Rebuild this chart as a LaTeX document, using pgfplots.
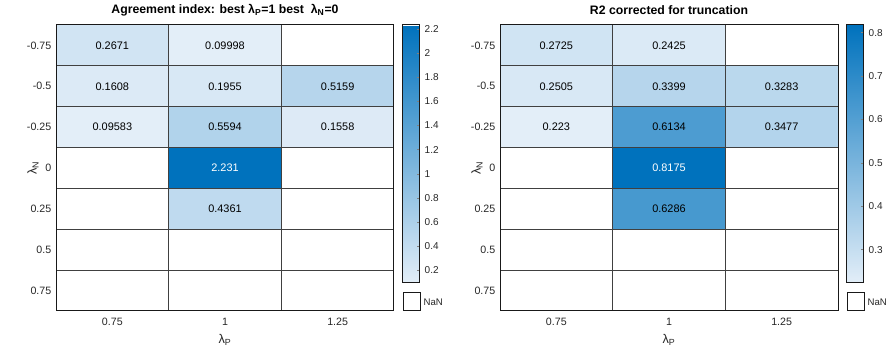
\documentclass[border=0pt]{standalone}
\usepackage{fontspec}
\setmainfont{Liberation Sans}
\usepackage{pgfplots}
\pgfplotsset{compat=1.18}
\usepgfplotslibrary{patchplots}

\pgfplotsset{
  /pgf/number format/assume math mode=true,
  hm/.style={
    scale only axis, width=253.5pt, height=214.5pt,
    xmin=-0.5, xmax=2.5, ymin=-0.5, ymax=6.5, y dir=reverse,
    xtick={0,1,2}, xticklabels={0.75,1,1.25},
    ytick={0,1,2,3,4,5,6}, yticklabels={-0.75,-0.5,-0.25,0,0.25,0.5,0.75},
    major tick length=0pt,
    minor xtick={0.5,1.5}, minor ytick={0.5,1.5,2.5,3.5,4.5,5.5},
    minor tick length=0pt,
    xminorgrids, yminorgrids,
    minor grid style={black!75, line width=0.6pt},
    axis line style={black!90, line width=0.75pt},
    axis on top,
    tick label style={font=\fontsize{8}{9.5}\selectfont, text=black!85},
    xticklabel style={yshift=-2pt},
    xlabel={λ\textsubscript{P}}, ylabel={λ\textsubscript{N}},
    label style={font=\fontsize{9.5}{11}\selectfont, text=black!85},
    xlabel style={at={(axis description cs:0.5,0)}, anchor=center, yshift=-21.75pt},
    ylabel style={at={(axis description cs:-0.068,0.5)}, anchor=center},
    every axis title shift=0pt,
    title style={font=\bfseries\fontsize{9.2}{11}\selectfont, at={(axis description cs:0.5,1)}, anchor=center, yshift=11.25pt},
    colormap={mblue}{rgb255=(227,238,248) rgb255=(0,114,189)},
    colorbar,
    colorbar style={
      scale only axis,
      at={(parent axis.north east)}, anchor=north west, xshift=-1.8pt,
      width=12.75pt, height=193.5pt,
      yticklabel style={font=\fontsize{7.5}{8.5}\selectfont, text=black!85},
      major tick length=2pt, tick align=inside, ytick pos=right,
      axis line style={black!90, line width=0.75pt},
    },
  },
  cells/.style={patch, patch type=rectangle, shader=flat, point meta=explicit},
  lbl/.style={only marks, mark=none, draw=none, fill=none, nodes near coords, point meta=explicit symbolic,
    nodes near coords align=center,
    every node near coord/.append style={font=\fontsize{8.2}{9.5}\selectfont, text=#1, anchor=center}},
}

\begin{document}
\begin{tikzpicture}
\useasboundingbox (0,0) rectangle (669.75pt,264pt);

% ---------- left heatmap ----------
\begin{axis}[hm, at={(42pt,30.75pt)}, anchor=south west,
  title={Agreement index: best λ\textsubscript{P}=1 best\ \ λ\textsubscript{N}=0},
  point meta min=0.09583, point meta max=2.231,
  colorbar style={ytick={0.2,0.4,0.6,0.8,1,1.2,1.4,1.6,1.8,2,2.2}}]
\addplot[cells] table[meta=c] {
x y c
-0.5 -0.5 0.2671
0.5 -0.5 0.2671
0.5 0.5 0.2671
-0.5 0.5 0.2671
0.5 -0.5 0.09998
1.5 -0.5 0.09998
1.5 0.5 0.09998
0.5 0.5 0.09998
-0.5 0.5 0.1608
0.5 0.5 0.1608
0.5 1.5 0.1608
-0.5 1.5 0.1608
0.5 0.5 0.1955
1.5 0.5 0.1955
1.5 1.5 0.1955
0.5 1.5 0.1955
1.5 0.5 0.5159
2.5 0.5 0.5159
2.5 1.5 0.5159
1.5 1.5 0.5159
-0.5 1.5 0.09583
0.5 1.5 0.09583
0.5 2.5 0.09583
-0.5 2.5 0.09583
0.5 1.5 0.5594
1.5 1.5 0.5594
1.5 2.5 0.5594
0.5 2.5 0.5594
1.5 1.5 0.1558
2.5 1.5 0.1558
2.5 2.5 0.1558
1.5 2.5 0.1558
0.5 2.5 2.231
1.5 2.5 2.231
1.5 3.5 2.231
0.5 3.5 2.231
0.5 3.5 0.4361
1.5 3.5 0.4361
1.5 4.5 0.4361
0.5 4.5 0.4361
};
\addplot[lbl=black] table[meta=l] {
x y l
0 0 0.2671
1 0 0.09998
0 1 0.1608
1 1 0.1955
2 1 0.5159
0 2 0.09583
1 2 0.5594
2 2 0.1558
1 4 0.4361
};
\addplot[lbl=white] table[meta=l] {
x y l
1 3 2.231
};
\end{axis}
\draw[line width=0.75pt, draw=black!90, fill=white] (302.25pt,30.75pt) rectangle (315pt,44.25pt);
\node[anchor=west, inner sep=0pt, font=\fontsize{7.2}{8}\selectfont, text=black!85] at (317.5pt,37.5pt) {NaN};

% ---------- right heatmap ----------
\begin{axis}[hm, at={(375pt,30.75pt)}, anchor=south west,
  title={R2 corrected for truncation},
  point meta min=0.223, point meta max=0.8175,
  colorbar style={ytick={0.3,0.4,0.5,0.6,0.7,0.8}}]
\addplot[cells] table[meta=c] {
x y c
-0.5 -0.5 0.2725
0.5 -0.5 0.2725
0.5 0.5 0.2725
-0.5 0.5 0.2725
0.5 -0.5 0.2425
1.5 -0.5 0.2425
1.5 0.5 0.2425
0.5 0.5 0.2425
-0.5 0.5 0.2505
0.5 0.5 0.2505
0.5 1.5 0.2505
-0.5 1.5 0.2505
0.5 0.5 0.3399
1.5 0.5 0.3399
1.5 1.5 0.3399
0.5 1.5 0.3399
1.5 0.5 0.3283
2.5 0.5 0.3283
2.5 1.5 0.3283
1.5 1.5 0.3283
-0.5 1.5 0.223
0.5 1.5 0.223
0.5 2.5 0.223
-0.5 2.5 0.223
0.5 1.5 0.6134
1.5 1.5 0.6134
1.5 2.5 0.6134
0.5 2.5 0.6134
1.5 1.5 0.3477
2.5 1.5 0.3477
2.5 2.5 0.3477
1.5 2.5 0.3477
0.5 2.5 0.8175
1.5 2.5 0.8175
1.5 3.5 0.8175
0.5 3.5 0.8175
0.5 3.5 0.6286
1.5 3.5 0.6286
1.5 4.5 0.6286
0.5 4.5 0.6286
};
\addplot[lbl=black] table[meta=l] {
x y l
0 0 0.2725
1 0 0.2425
0 1 0.2505
1 1 0.3399
2 1 0.3283
0 2 0.223
1 2 0.6134
2 2 0.3477
1 4 0.6286
};
\addplot[lbl=white] table[meta=l] {
x y l
1 3 0.8175
};
\end{axis}
\draw[line width=0.75pt, draw=black!90, fill=white] (635.25pt,30.75pt) rectangle (648pt,44.25pt);
\node[anchor=west, inner sep=0pt, font=\fontsize{7.2}{8}\selectfont, text=black!85] at (650.5pt,37.5pt) {NaN};
\end{tikzpicture}
\end{document}
